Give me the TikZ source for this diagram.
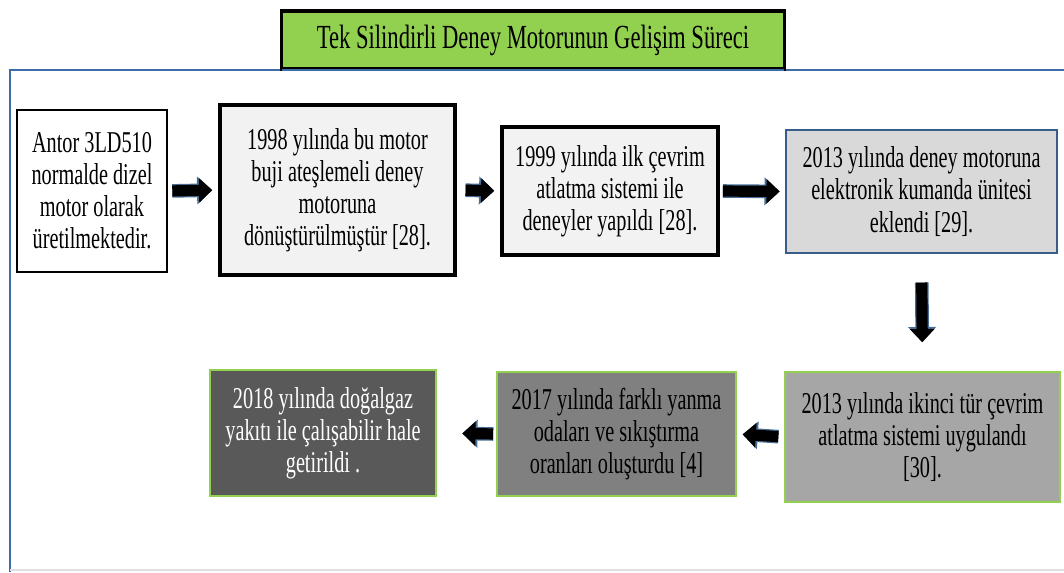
\documentclass[tikz,border=0pt]{standalone}
\usepackage{fontspec}
\setmainfont{Liberation Serif}[FakeStretch=0.67]
\usepackage{tikz}
\usetikzlibrary{arrows.meta, positioning, calc}
\usepackage{xcolor}
\definecolor{titlegreen}{RGB}{146,208,80}
\definecolor{framblue}{RGB}{62,108,168}
\definecolor{boxblue}{RGB}{56,93,138}
\definecolor{lightgray}{RGB}{242,242,242}
\definecolor{midgray}{RGB}{217,217,217}
\definecolor{greyA}{RGB}{166,166,166}
\definecolor{greyB}{RGB}{128,128,128}
\definecolor{greyC}{RGB}{89,89,89}
\definecolor{arrowrim}{RGB}{70,110,150}

\begin{document}
\begin{tikzpicture}[x=0.025cm, y=-0.025cm,
  stagebox/.style={draw, align=center, inner sep=2pt, font=\fontsize{21.5}{22.8}\selectfont},
  flowarrow/.style={line width=0.28cm, -{Triangle[width=0.6cm, length=0.33cm]},
    preaction={draw=arrowrim, line width=0.34cm, -{Triangle[width=0.68cm, length=0.38cm]}}}]
  \useasboundingbox (0,0) rectangle (1064,572);
  % outer frame
  \draw[framblue, line width=2pt] (1064,70) -- (10,70) -- (10,572);
  \draw[black!12, line width=1pt] (10,570) -- (1064,570);
  % title
  \node[draw, line width=2.2pt, fill=titlegreen, minimum width=12.55cm, minimum height=1.45cm,
    font=\fontsize{24}{26}\selectfont] (title) at (533,40) {Tek Silindirli Deney Motorunun Gelişim Süreci};
  \draw[framblue, line width=2pt] (282,70) -- (784,70);
  % upper row
  \node[stagebox, line width=1.5pt, fill=white, minimum width=3.75cm, minimum height=4.05cm] (antor) at (92,191)
    {Antor 3LD510\\normalde dizel\\motor olarak\\üretilmektedir.};
  \node[stagebox, line width=3pt, fill=lightgray, minimum width=5.875cm, minimum height=4.25cm] (buji) at (337.5,190)
    {1998 yılında bu motor\\buji ateşlemeli deney\\motoruna\\dönüştürülmüştür [28].};
  \node[stagebox, line width=3pt, fill=lightgray, minimum width=5.4cm, minimum height=3.2cm] (cevrim) at (610,191)
    {1999 yılında ilk çevrim\\atlatma sistemi ile\\deneyler yapıldı [28].};
  \node[stagebox, draw=boxblue, line width=1pt, fill=midgray, minimum width=6.775cm, minimum height=3.075cm] (kumanda) at (921.5,191.5)
    {2013 yılında deney motoruna\\elektronik kumanda ünitesi\\eklendi [29].};
  % lower row
  \node[stagebox, draw=titlegreen, line width=1.4pt, fill=greyA, minimum width=6.875cm, minimum height=3.25cm] (ikinci) at (922.5,437)
    {2013 yılında ikinci tür çevrim\\atlatma sistemi uygulandı\\{[30]}.};
  \node[stagebox, draw=titlegreen, line width=1.4pt, fill=greyB, minimum width=5.975cm, minimum height=3.1cm] (yanma) at (616.5,434)
    {2017 yılında farklı yanma\\odaları ve sıkıştırma\\oranları oluşturdu [4]};
  \node[stagebox, draw=titlegreen, line width=1.4pt, fill=greyC, text=white, minimum width=5.65cm, minimum height=3.15cm] (dogalgaz) at (323,433)
    {2018 yılında doğalgaz\\yakıtı ile çalışabilir hale\\getirildi .};
  % arrows
  \draw[flowarrow, shorten <=3pt, shorten >=4pt] (antor.east) -- (buji.west);
  \draw[flowarrow, shorten <=6pt, shorten >=4pt] (buji.east) -- (cevrim.west);
  \draw[flowarrow, shorten <=2pt, shorten >=4pt] (cevrim.east) -- (kumanda.west);
  \draw[flowarrow, shorten <=0.72cm, shorten >=0.72cm] (kumanda.south) -- (ikinci.north);
  \draw[flowarrow, shorten <=4pt, shorten >=4pt] (ikinci.west) -- (yanma.east);
  \draw[flowarrow, shorten <=2pt, shorten >=18pt] (yanma.west) -- (dogalgaz.east);
\end{tikzpicture}
\end{document}
